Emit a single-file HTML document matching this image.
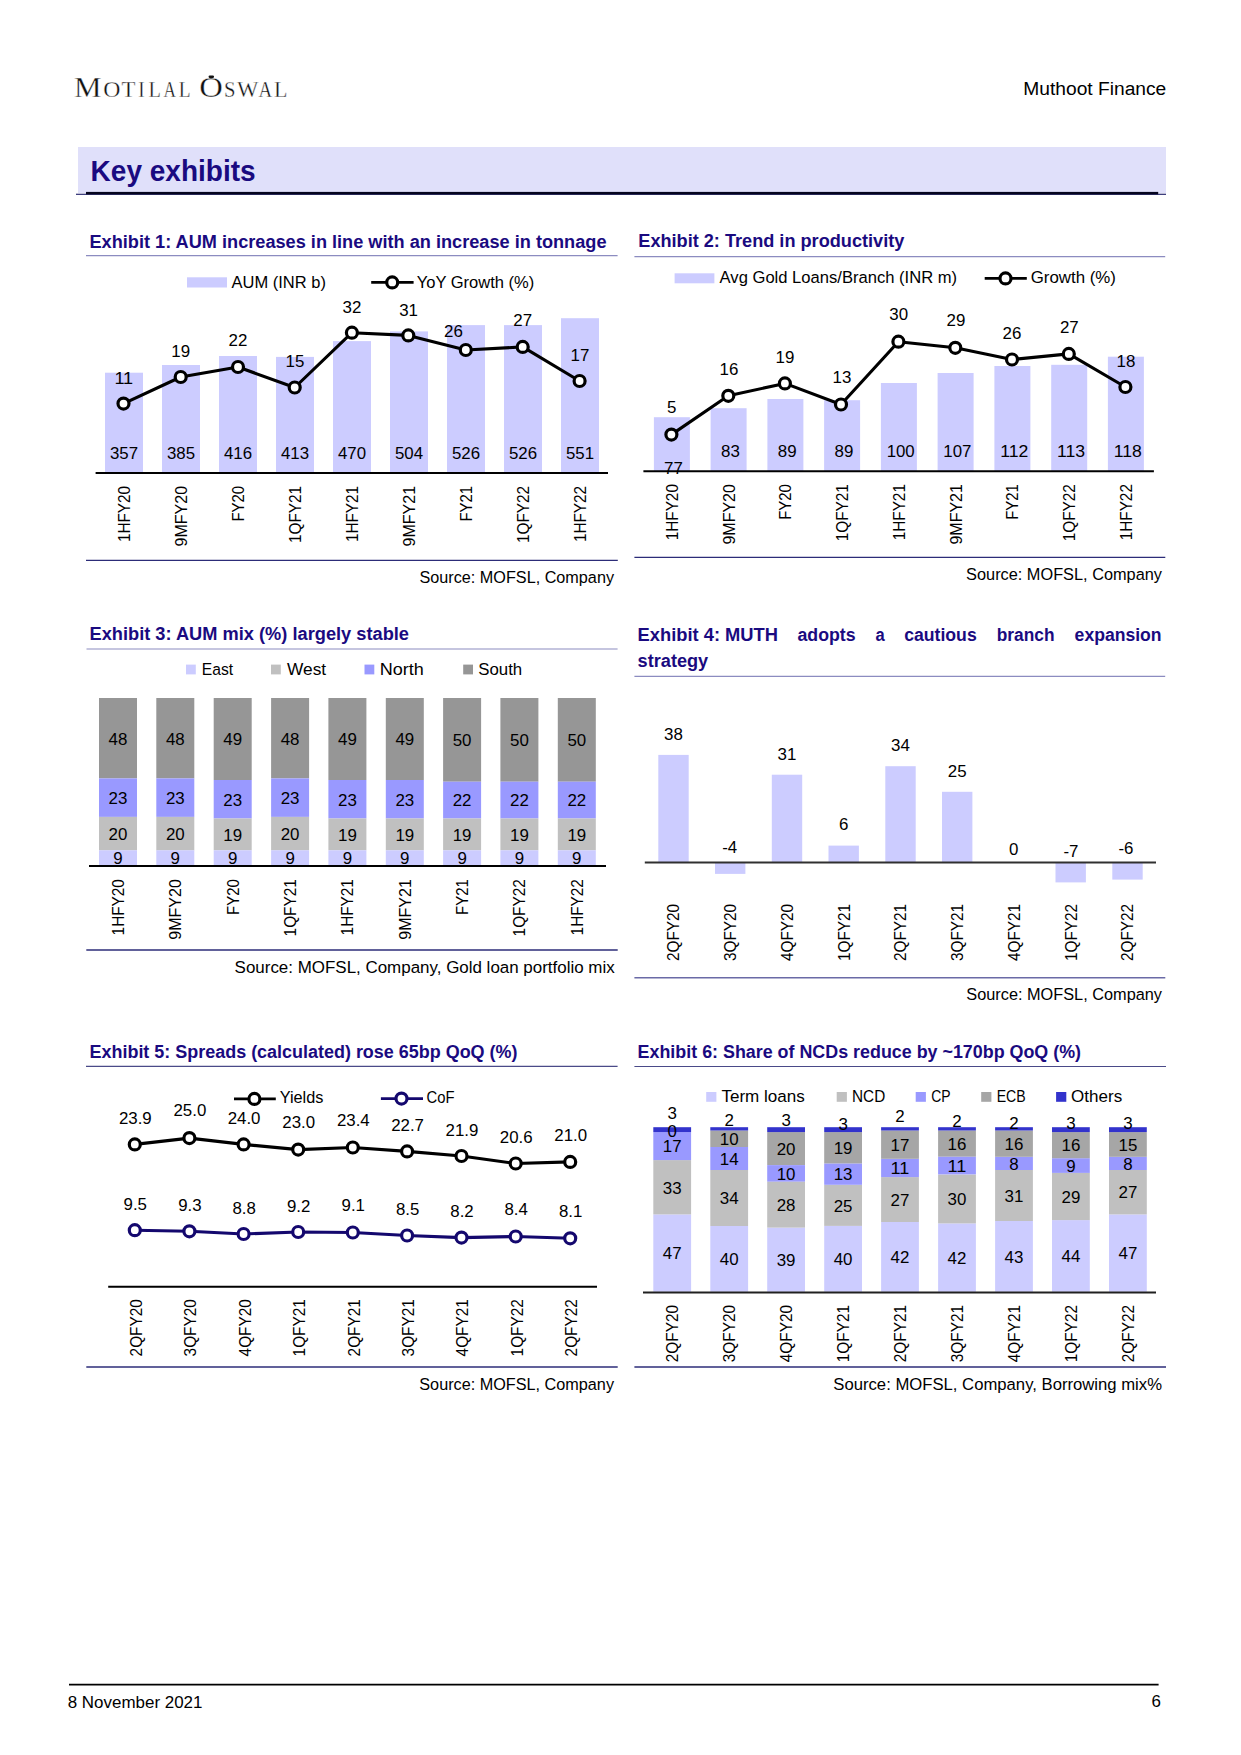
<!DOCTYPE html>
<html><head><meta charset="utf-8"><style>
html,body{margin:0;padding:0;background:#fff;overflow:hidden;width:1241px;height:1755px;}
svg{display:block;font-family:"Liberation Sans",sans-serif;}
</style></head><body>
<svg width="1241" height="1755" viewBox="0 0 1241 1755">
<rect width="1241" height="1755" fill="#fff"/>
<text transform="translate(74.10,96.9) scale(1.039,1)" x="0" y="0" font-family="Liberation Serif" font-size="29.8" fill="#111" stroke="#fff" stroke-width="0.35">M</text>
<text transform="translate(103.22,96.9) scale(1.012,1)" x="0" y="0" font-family="Liberation Serif" font-size="23.5" fill="#111" stroke="#fff" stroke-width="0.35">O</text>
<text transform="translate(121.49,96.9) scale(0.969,1)" x="0" y="0" font-family="Liberation Serif" font-size="23.5" fill="#111" stroke="#fff" stroke-width="0.35">T</text>
<text transform="translate(138.31,96.9) scale(0.815,1)" x="0" y="0" font-family="Liberation Serif" font-size="23.5" fill="#111" stroke="#fff" stroke-width="0.35">I</text>
<text transform="translate(148.41,96.9) scale(0.866,1)" x="0" y="0" font-family="Liberation Serif" font-size="23.5" fill="#111" stroke="#fff" stroke-width="0.35">L</text>
<text transform="translate(163.53,96.9) scale(0.731,1)" x="0" y="0" font-family="Liberation Serif" font-size="23.5" fill="#111" stroke="#fff" stroke-width="0.35">A</text>
<text transform="translate(178.74,96.9) scale(0.825,1)" x="0" y="0" font-family="Liberation Serif" font-size="23.5" fill="#111" stroke="#fff" stroke-width="0.35">L</text>
<text transform="translate(199.26,96.9) scale(1.098,1)" x="0" y="0" font-family="Liberation Serif" font-size="29.8" fill="#111" stroke="#fff" stroke-width="0.35">O</text>
<text transform="translate(224.12,96.9) scale(0.879,1)" x="0" y="0" font-family="Liberation Serif" font-size="23.5" fill="#111" stroke="#fff" stroke-width="0.35">S</text>
<text transform="translate(236.98,96.9) scale(0.964,1)" x="0" y="0" font-family="Liberation Serif" font-size="23.5" fill="#111" stroke="#fff" stroke-width="0.35">W</text>
<text transform="translate(258.51,96.9) scale(0.804,1)" x="0" y="0" font-family="Liberation Serif" font-size="23.5" fill="#111" stroke="#fff" stroke-width="0.35">A</text>
<text transform="translate(274.06,96.9) scale(0.939,1)" x="0" y="0" font-family="Liberation Serif" font-size="23.5" fill="#111" stroke="#fff" stroke-width="0.35">L</text>
<rect x="208.6" y="75.4" width="5.4" height="2.6" rx="1.2" fill="#111"/>
<text x="1166.3" y="95.0" font-size="17.60" font-weight="normal" text-anchor="end" fill="#000" textLength="143.0" lengthAdjust="spacingAndGlyphs">Muthoot Finance</text>
<rect x="78.0" y="147.0" width="1088.0" height="46.0" fill="#e0e0fa"/>
<rect x="76.0" y="193.7" width="1090.0" height="1.2" fill="#2a2a70"/>
<rect x="86.0" y="191.9" width="1072.2" height="2.5" fill="#05051e"/>
<text x="90.6" y="180.6" font-size="28.80" font-weight="bold" text-anchor="start" fill="#1a0a80" textLength="165.0" lengthAdjust="spacingAndGlyphs">Key exhibits</text>
<text x="89.5" y="248.0" font-size="18.30" font-weight="bold" text-anchor="start" fill="#1a0a80" textLength="517.0" lengthAdjust="spacingAndGlyphs">Exhibit 1: AUM increases in line with an increase in tonnage</text>
<text x="638.3" y="247.2" font-size="18.30" font-weight="bold" text-anchor="start" fill="#1a0a80" textLength="266.0" lengthAdjust="spacingAndGlyphs">Exhibit 2: Trend in productivity</text>
<text x="89.5" y="639.8" font-size="18.30" font-weight="bold" text-anchor="start" fill="#1a0a80" textLength="319.5" lengthAdjust="spacingAndGlyphs">Exhibit 3: AUM mix (%) largely stable</text>
<text x="89.5" y="1058.0" font-size="18.30" font-weight="bold" text-anchor="start" fill="#1a0a80" textLength="428.0" lengthAdjust="spacingAndGlyphs">Exhibit 5: Spreads (calculated) rose 65bp QoQ (%)</text>
<text x="637.6" y="1057.8" font-size="18.30" font-weight="bold" text-anchor="start" fill="#1a0a80" textLength="443.4" lengthAdjust="spacingAndGlyphs">Exhibit 6: Share of NCDs reduce by ~170bp QoQ (%)</text>
<text x="637.6" y="640.7" font-size="18.30" font-weight="bold" text-anchor="start" fill="#1a0a80" textLength="140.4" lengthAdjust="spacingAndGlyphs">Exhibit 4: MUTH</text>
<text x="797.5" y="640.7" font-size="18.30" font-weight="bold" text-anchor="start" fill="#1a0a80" textLength="58.1" lengthAdjust="spacingAndGlyphs">adopts</text>
<text x="875.4" y="640.7" font-size="18.30" font-weight="bold" text-anchor="start" fill="#1a0a80" textLength="9.2" lengthAdjust="spacingAndGlyphs">a</text>
<text x="904.2" y="640.7" font-size="18.30" font-weight="bold" text-anchor="start" fill="#1a0a80" textLength="72.5" lengthAdjust="spacingAndGlyphs">cautious</text>
<text x="996.8" y="640.7" font-size="18.30" font-weight="bold" text-anchor="start" fill="#1a0a80" textLength="57.7" lengthAdjust="spacingAndGlyphs">branch</text>
<text x="1074.6" y="640.7" font-size="18.30" font-weight="bold" text-anchor="start" fill="#1a0a80" textLength="87.0" lengthAdjust="spacingAndGlyphs">expansion</text>
<text x="637.6" y="667.2" font-size="18.30" font-weight="bold" text-anchor="start" fill="#1a0a80" textLength="70.6" lengthAdjust="spacingAndGlyphs">strategy</text>
<line x1="86.0" y1="255.6" x2="617.6" y2="255.6" stroke="#8c8cc0" stroke-width="1.2"/>
<line x1="634.4" y1="256.6" x2="1165.2" y2="256.6" stroke="#8c8cc0" stroke-width="1.2"/>
<line x1="86.5" y1="649.0" x2="617.6" y2="649.0" stroke="#8c8cc0" stroke-width="1.2"/>
<line x1="634.4" y1="676.3" x2="1165.2" y2="676.3" stroke="#8c8cc0" stroke-width="1.2"/>
<line x1="86.0" y1="1066.4" x2="617.6" y2="1066.4" stroke="#4a4a88" stroke-width="1.2"/>
<line x1="634.4" y1="1066.5" x2="1166.0" y2="1066.5" stroke="#4a4a88" stroke-width="1.2"/>
<line x1="86.0" y1="560.4" x2="617.8" y2="560.4" stroke="#2c2c78" stroke-width="1.3"/>
<line x1="634.4" y1="557.3" x2="1165.3" y2="557.3" stroke="#2c2c78" stroke-width="1.3"/>
<line x1="86.3" y1="950.0" x2="617.7" y2="950.0" stroke="#2c2c78" stroke-width="1.3"/>
<line x1="634.4" y1="977.8" x2="1165.3" y2="977.8" stroke="#6a6aa6" stroke-width="1.4"/>
<line x1="86.3" y1="1367.0" x2="617.7" y2="1367.0" stroke="#2c2c78" stroke-width="1.3"/>
<line x1="634.4" y1="1367.0" x2="1166.0" y2="1367.0" stroke="#2c2c78" stroke-width="1.3"/>
<text x="614.0" y="582.8" font-size="16.64" font-weight="normal" text-anchor="end" fill="#000" textLength="194.5" lengthAdjust="spacingAndGlyphs">Source: MOFSL, Company</text>
<text x="1162.0" y="579.8" font-size="16.64" font-weight="normal" text-anchor="end" fill="#000" textLength="195.9" lengthAdjust="spacingAndGlyphs">Source: MOFSL, Company</text>
<text x="614.7" y="972.8" font-size="16.64" font-weight="normal" text-anchor="end" fill="#000" textLength="380.1" lengthAdjust="spacingAndGlyphs">Source: MOFSL, Company, Gold loan portfolio mix</text>
<text x="1162.0" y="999.5" font-size="16.64" font-weight="normal" text-anchor="end" fill="#000" textLength="195.7" lengthAdjust="spacingAndGlyphs">Source: MOFSL, Company</text>
<text x="614.0" y="1389.8" font-size="16.64" font-weight="normal" text-anchor="end" fill="#000" textLength="194.7" lengthAdjust="spacingAndGlyphs">Source: MOFSL, Company</text>
<text x="1162.0" y="1390.0" font-size="16.64" font-weight="normal" text-anchor="end" fill="#000" textLength="328.7" lengthAdjust="spacingAndGlyphs">Source: MOFSL, Company, Borrowing mix%</text>
<rect x="105.0" y="372.7" width="38.0" height="100.3" fill="#ccccff"/>
<text x="124.0" y="459.2" font-size="16.64" font-weight="normal" text-anchor="middle" fill="#000" textLength="28.1" lengthAdjust="spacingAndGlyphs">357</text>
<rect x="162.0" y="365.0" width="38.0" height="108.0" fill="#ccccff"/>
<text x="181.0" y="459.2" font-size="16.64" font-weight="normal" text-anchor="middle" fill="#000" textLength="28.1" lengthAdjust="spacingAndGlyphs">385</text>
<rect x="219.0" y="356.0" width="38.0" height="117.0" fill="#ccccff"/>
<text x="238.0" y="459.2" font-size="16.64" font-weight="normal" text-anchor="middle" fill="#000" textLength="28.1" lengthAdjust="spacingAndGlyphs">416</text>
<rect x="276.0" y="356.9" width="38.0" height="116.1" fill="#ccccff"/>
<text x="295.0" y="459.2" font-size="16.64" font-weight="normal" text-anchor="middle" fill="#000" textLength="28.1" lengthAdjust="spacingAndGlyphs">413</text>
<rect x="333.0" y="341.1" width="38.0" height="131.9" fill="#ccccff"/>
<text x="352.0" y="459.2" font-size="16.64" font-weight="normal" text-anchor="middle" fill="#000" textLength="28.1" lengthAdjust="spacingAndGlyphs">470</text>
<rect x="390.0" y="331.4" width="38.0" height="141.6" fill="#ccccff"/>
<text x="409.0" y="459.2" font-size="16.64" font-weight="normal" text-anchor="middle" fill="#000" textLength="28.1" lengthAdjust="spacingAndGlyphs">504</text>
<rect x="447.0" y="325.1" width="38.0" height="147.9" fill="#ccccff"/>
<text x="466.0" y="459.2" font-size="16.64" font-weight="normal" text-anchor="middle" fill="#000" textLength="28.1" lengthAdjust="spacingAndGlyphs">526</text>
<rect x="504.0" y="325.1" width="38.0" height="147.9" fill="#ccccff"/>
<text x="523.0" y="459.2" font-size="16.64" font-weight="normal" text-anchor="middle" fill="#000" textLength="28.1" lengthAdjust="spacingAndGlyphs">526</text>
<rect x="561.0" y="318.2" width="38.0" height="154.8" fill="#ccccff"/>
<text x="580.0" y="459.2" font-size="16.64" font-weight="normal" text-anchor="middle" fill="#000" textLength="28.1" lengthAdjust="spacingAndGlyphs">551</text>
<line x1="95.6" y1="473.0" x2="608.0" y2="473.0" stroke="#000" stroke-width="2"/>
<polyline points="123.5,403.6 180.7,377.0 238.0,367.0 294.7,387.5 351.9,332.7 408.3,335.4 465.8,350.0 522.7,346.9 579.6,381.0" fill="none" stroke="#000" stroke-width="3.1" stroke-linejoin="round"/>
<circle cx="123.5" cy="403.6" r="5.5" fill="#fff" stroke="#000" stroke-width="3.2"/>
<circle cx="180.7" cy="377.0" r="5.5" fill="#fff" stroke="#000" stroke-width="3.2"/>
<circle cx="238.0" cy="367.0" r="5.5" fill="#fff" stroke="#000" stroke-width="3.2"/>
<circle cx="294.7" cy="387.5" r="5.5" fill="#fff" stroke="#000" stroke-width="3.2"/>
<circle cx="351.9" cy="332.7" r="5.5" fill="#fff" stroke="#000" stroke-width="3.2"/>
<circle cx="408.3" cy="335.4" r="5.5" fill="#fff" stroke="#000" stroke-width="3.2"/>
<circle cx="465.8" cy="350.0" r="5.5" fill="#fff" stroke="#000" stroke-width="3.2"/>
<circle cx="522.7" cy="346.9" r="5.5" fill="#fff" stroke="#000" stroke-width="3.2"/>
<circle cx="579.6" cy="381.0" r="5.5" fill="#fff" stroke="#000" stroke-width="3.2"/>
<text x="123.8" y="384.0" font-size="16.64" font-weight="normal" text-anchor="middle" fill="#000" textLength="18.8" lengthAdjust="spacingAndGlyphs">11</text>
<text x="180.7" y="356.9" font-size="16.64" font-weight="normal" text-anchor="middle" fill="#000" textLength="18.8" lengthAdjust="spacingAndGlyphs">19</text>
<text x="238.0" y="346.4" font-size="16.64" font-weight="normal" text-anchor="middle" fill="#000" textLength="18.8" lengthAdjust="spacingAndGlyphs">22</text>
<text x="295.0" y="367.4" font-size="16.64" font-weight="normal" text-anchor="middle" fill="#000" textLength="18.8" lengthAdjust="spacingAndGlyphs">15</text>
<text x="352.0" y="312.6" font-size="16.64" font-weight="normal" text-anchor="middle" fill="#000" textLength="18.8" lengthAdjust="spacingAndGlyphs">32</text>
<text x="408.6" y="315.8" font-size="16.64" font-weight="normal" text-anchor="middle" fill="#000" textLength="18.8" lengthAdjust="spacingAndGlyphs">31</text>
<text x="453.4" y="336.7" font-size="16.64" font-weight="normal" text-anchor="middle" fill="#000" textLength="18.8" lengthAdjust="spacingAndGlyphs">26</text>
<text x="522.7" y="326.3" font-size="16.64" font-weight="normal" text-anchor="middle" fill="#000" textLength="18.8" lengthAdjust="spacingAndGlyphs">27</text>
<text x="580.0" y="360.9" font-size="16.64" font-weight="normal" text-anchor="middle" fill="#000" textLength="18.8" lengthAdjust="spacingAndGlyphs">17</text>
<text transform="translate(129.9,485.9) rotate(-90)" x="0" y="0" font-size="16.37" text-anchor="end" fill="#000" textLength="56.2" lengthAdjust="spacingAndGlyphs">1HFY20</text>
<text transform="translate(186.9,485.9) rotate(-90)" x="0" y="0" font-size="16.37" text-anchor="end" fill="#000" textLength="60.5" lengthAdjust="spacingAndGlyphs">9MFY20</text>
<text transform="translate(243.9,485.9) rotate(-90)" x="0" y="0" font-size="16.37" text-anchor="end" fill="#000" textLength="35.7" lengthAdjust="spacingAndGlyphs">FY20</text>
<text transform="translate(300.9,485.9) rotate(-90)" x="0" y="0" font-size="16.37" text-anchor="end" fill="#000" textLength="57.2" lengthAdjust="spacingAndGlyphs">1QFY21</text>
<text transform="translate(357.9,485.9) rotate(-90)" x="0" y="0" font-size="16.37" text-anchor="end" fill="#000" textLength="56.2" lengthAdjust="spacingAndGlyphs">1HFY21</text>
<text transform="translate(414.9,485.9) rotate(-90)" x="0" y="0" font-size="16.37" text-anchor="end" fill="#000" textLength="60.5" lengthAdjust="spacingAndGlyphs">9MFY21</text>
<text transform="translate(471.9,485.9) rotate(-90)" x="0" y="0" font-size="16.37" text-anchor="end" fill="#000" textLength="35.7" lengthAdjust="spacingAndGlyphs">FY21</text>
<text transform="translate(528.9,485.9) rotate(-90)" x="0" y="0" font-size="16.37" text-anchor="end" fill="#000" textLength="57.2" lengthAdjust="spacingAndGlyphs">1QFY22</text>
<text transform="translate(585.9,485.9) rotate(-90)" x="0" y="0" font-size="16.37" text-anchor="end" fill="#000" textLength="56.2" lengthAdjust="spacingAndGlyphs">1HFY22</text>
<rect x="187.0" y="277.3" width="40.0" height="10.2" fill="#ccccff"/>
<text x="231.6" y="287.6" font-size="16.64" font-weight="normal" text-anchor="start" fill="#000" textLength="94.3" lengthAdjust="spacingAndGlyphs">AUM (INR b)</text>
<line x1="371.2" y1="282.4" x2="413.6" y2="282.4" stroke="#000" stroke-width="2.8"/>
<circle cx="392.2" cy="282.4" r="5.5" fill="#fff" stroke="#000" stroke-width="3.2"/>
<text x="416.7" y="287.6" font-size="16.64" font-weight="normal" text-anchor="start" fill="#000" textLength="117.6" lengthAdjust="spacingAndGlyphs">YoY Growth (%)</text>
<rect x="653.9" y="417.2" width="36.0" height="54.1" fill="#ccccff"/>
<text x="673.4" y="474.0" font-size="16.64" font-weight="normal" text-anchor="middle" fill="#000" textLength="18.8" lengthAdjust="spacingAndGlyphs">77</text>
<rect x="710.6" y="408.2" width="36.0" height="63.1" fill="#ccccff"/>
<text x="730.4" y="456.5" font-size="16.64" font-weight="normal" text-anchor="middle" fill="#000" textLength="18.8" lengthAdjust="spacingAndGlyphs">83</text>
<rect x="767.4" y="399.0" width="36.0" height="72.3" fill="#ccccff"/>
<text x="787.2" y="456.5" font-size="16.64" font-weight="normal" text-anchor="middle" fill="#000" textLength="18.8" lengthAdjust="spacingAndGlyphs">89</text>
<rect x="824.1" y="400.2" width="36.0" height="71.1" fill="#ccccff"/>
<text x="843.9" y="456.5" font-size="16.64" font-weight="normal" text-anchor="middle" fill="#000" textLength="18.8" lengthAdjust="spacingAndGlyphs">89</text>
<rect x="880.9" y="383.0" width="36.0" height="88.3" fill="#ccccff"/>
<text x="900.7" y="456.5" font-size="16.64" font-weight="normal" text-anchor="middle" fill="#000" textLength="28.1" lengthAdjust="spacingAndGlyphs">100</text>
<rect x="937.6" y="373.0" width="36.0" height="98.3" fill="#ccccff"/>
<text x="957.4" y="456.5" font-size="16.64" font-weight="normal" text-anchor="middle" fill="#000" textLength="28.1" lengthAdjust="spacingAndGlyphs">107</text>
<rect x="994.4" y="366.0" width="36.0" height="105.3" fill="#ccccff"/>
<text x="1014.2" y="456.5" font-size="16.64" font-weight="normal" text-anchor="middle" fill="#000" textLength="28.1" lengthAdjust="spacingAndGlyphs">112</text>
<rect x="1051.2" y="364.8" width="36.0" height="106.5" fill="#ccccff"/>
<text x="1071.0" y="456.5" font-size="16.64" font-weight="normal" text-anchor="middle" fill="#000" textLength="28.1" lengthAdjust="spacingAndGlyphs">113</text>
<rect x="1107.9" y="356.7" width="36.0" height="114.6" fill="#ccccff"/>
<text x="1127.7" y="456.5" font-size="16.64" font-weight="normal" text-anchor="middle" fill="#000" textLength="28.1" lengthAdjust="spacingAndGlyphs">118</text>
<line x1="643.4" y1="471.3" x2="1153.9" y2="471.3" stroke="#000" stroke-width="2"/>
<polyline points="671.4,434.6 728.3,395.8 784.9,383.4 841.0,404.5 898.4,341.7 955.3,347.8 1012.0,359.5 1068.8,353.9 1125.4,387.0" fill="none" stroke="#000" stroke-width="3.1" stroke-linejoin="round"/>
<circle cx="671.4" cy="434.6" r="5.5" fill="#fff" stroke="#000" stroke-width="3.2"/>
<circle cx="728.3" cy="395.8" r="5.5" fill="#fff" stroke="#000" stroke-width="3.2"/>
<circle cx="784.9" cy="383.4" r="5.5" fill="#fff" stroke="#000" stroke-width="3.2"/>
<circle cx="841.0" cy="404.5" r="5.5" fill="#fff" stroke="#000" stroke-width="3.2"/>
<circle cx="898.4" cy="341.7" r="5.5" fill="#fff" stroke="#000" stroke-width="3.2"/>
<circle cx="955.3" cy="347.8" r="5.5" fill="#fff" stroke="#000" stroke-width="3.2"/>
<circle cx="1012.0" cy="359.5" r="5.5" fill="#fff" stroke="#000" stroke-width="3.2"/>
<circle cx="1068.8" cy="353.9" r="5.5" fill="#fff" stroke="#000" stroke-width="3.2"/>
<circle cx="1125.4" cy="387.0" r="5.5" fill="#fff" stroke="#000" stroke-width="3.2"/>
<text x="671.6" y="413.4" font-size="16.64" font-weight="normal" text-anchor="middle" fill="#000" textLength="9.4" lengthAdjust="spacingAndGlyphs">5</text>
<text x="729.0" y="374.7" font-size="16.64" font-weight="normal" text-anchor="middle" fill="#000" textLength="18.8" lengthAdjust="spacingAndGlyphs">16</text>
<text x="785.0" y="362.7" font-size="16.64" font-weight="normal" text-anchor="middle" fill="#000" textLength="18.8" lengthAdjust="spacingAndGlyphs">19</text>
<text x="842.0" y="383.4" font-size="16.64" font-weight="normal" text-anchor="middle" fill="#000" textLength="18.8" lengthAdjust="spacingAndGlyphs">13</text>
<text x="898.7" y="320.4" font-size="16.64" font-weight="normal" text-anchor="middle" fill="#000" textLength="18.8" lengthAdjust="spacingAndGlyphs">30</text>
<text x="956.0" y="326.3" font-size="16.64" font-weight="normal" text-anchor="middle" fill="#000" textLength="18.8" lengthAdjust="spacingAndGlyphs">29</text>
<text x="1012.0" y="338.7" font-size="16.64" font-weight="normal" text-anchor="middle" fill="#000" textLength="18.8" lengthAdjust="spacingAndGlyphs">26</text>
<text x="1069.3" y="332.6" font-size="16.64" font-weight="normal" text-anchor="middle" fill="#000" textLength="18.8" lengthAdjust="spacingAndGlyphs">27</text>
<text x="1125.9" y="366.7" font-size="16.64" font-weight="normal" text-anchor="middle" fill="#000" textLength="18.8" lengthAdjust="spacingAndGlyphs">18</text>
<text transform="translate(677.8,484.1) rotate(-90)" x="0" y="0" font-size="16.37" text-anchor="end" fill="#000" textLength="56.2" lengthAdjust="spacingAndGlyphs">1HFY20</text>
<text transform="translate(734.5,484.1) rotate(-90)" x="0" y="0" font-size="16.37" text-anchor="end" fill="#000" textLength="60.5" lengthAdjust="spacingAndGlyphs">9MFY20</text>
<text transform="translate(791.3,484.1) rotate(-90)" x="0" y="0" font-size="16.37" text-anchor="end" fill="#000" textLength="35.7" lengthAdjust="spacingAndGlyphs">FY20</text>
<text transform="translate(848.0,484.1) rotate(-90)" x="0" y="0" font-size="16.37" text-anchor="end" fill="#000" textLength="57.2" lengthAdjust="spacingAndGlyphs">1QFY21</text>
<text transform="translate(904.8,484.1) rotate(-90)" x="0" y="0" font-size="16.37" text-anchor="end" fill="#000" textLength="56.2" lengthAdjust="spacingAndGlyphs">1HFY21</text>
<text transform="translate(961.5,484.1) rotate(-90)" x="0" y="0" font-size="16.37" text-anchor="end" fill="#000" textLength="60.5" lengthAdjust="spacingAndGlyphs">9MFY21</text>
<text transform="translate(1018.3,484.1) rotate(-90)" x="0" y="0" font-size="16.37" text-anchor="end" fill="#000" textLength="35.7" lengthAdjust="spacingAndGlyphs">FY21</text>
<text transform="translate(1075.0,484.1) rotate(-90)" x="0" y="0" font-size="16.37" text-anchor="end" fill="#000" textLength="57.2" lengthAdjust="spacingAndGlyphs">1QFY22</text>
<text transform="translate(1131.8,484.1) rotate(-90)" x="0" y="0" font-size="16.37" text-anchor="end" fill="#000" textLength="56.2" lengthAdjust="spacingAndGlyphs">1HFY22</text>
<rect x="674.6" y="273.3" width="39.8" height="10.0" fill="#ccccff"/>
<text x="719.6" y="283.3" font-size="16.64" font-weight="normal" text-anchor="start" fill="#000" textLength="237.5" lengthAdjust="spacingAndGlyphs">Avg Gold Loans/Branch (INR m)</text>
<line x1="984.7" y1="278.4" x2="1026.8" y2="278.4" stroke="#000" stroke-width="2.8"/>
<circle cx="1005.5" cy="278.4" r="5.5" fill="#fff" stroke="#000" stroke-width="3.2"/>
<text x="1030.7" y="283.3" font-size="16.64" font-weight="normal" text-anchor="start" fill="#000" textLength="85.3" lengthAdjust="spacingAndGlyphs">Growth (%)</text>
<rect x="99.0" y="698.0" width="38.0" height="80.4" fill="#969696"/>
<text x="118.0" y="744.5" font-size="16.64" font-weight="normal" text-anchor="middle" fill="#000" textLength="18.8" lengthAdjust="spacingAndGlyphs">48</text>
<rect x="99.0" y="778.4" width="38.0" height="38.5" fill="#9999ff"/>
<text x="118.0" y="803.9" font-size="16.64" font-weight="normal" text-anchor="middle" fill="#000" textLength="18.8" lengthAdjust="spacingAndGlyphs">23</text>
<rect x="99.0" y="816.9" width="38.0" height="33.5" fill="#c0c0c0"/>
<text x="118.0" y="839.9" font-size="16.64" font-weight="normal" text-anchor="middle" fill="#000" textLength="18.8" lengthAdjust="spacingAndGlyphs">20</text>
<rect x="99.0" y="850.3" width="38.0" height="15.1" fill="#ccccff"/>
<text x="118.0" y="864.2" font-size="16.64" font-weight="normal" text-anchor="middle" fill="#000" textLength="9.4" lengthAdjust="spacingAndGlyphs">9</text>
<rect x="156.3" y="698.0" width="38.0" height="80.4" fill="#969696"/>
<text x="175.3" y="744.5" font-size="16.64" font-weight="normal" text-anchor="middle" fill="#000" textLength="18.8" lengthAdjust="spacingAndGlyphs">48</text>
<rect x="156.3" y="778.4" width="38.0" height="38.5" fill="#9999ff"/>
<text x="175.3" y="803.9" font-size="16.64" font-weight="normal" text-anchor="middle" fill="#000" textLength="18.8" lengthAdjust="spacingAndGlyphs">23</text>
<rect x="156.3" y="816.9" width="38.0" height="33.5" fill="#c0c0c0"/>
<text x="175.3" y="839.9" font-size="16.64" font-weight="normal" text-anchor="middle" fill="#000" textLength="18.8" lengthAdjust="spacingAndGlyphs">20</text>
<rect x="156.3" y="850.3" width="38.0" height="15.1" fill="#ccccff"/>
<text x="175.3" y="864.2" font-size="16.64" font-weight="normal" text-anchor="middle" fill="#000" textLength="9.4" lengthAdjust="spacingAndGlyphs">9</text>
<rect x="213.7" y="698.0" width="38.0" height="82.0" fill="#969696"/>
<text x="232.7" y="745.3" font-size="16.64" font-weight="normal" text-anchor="middle" fill="#000" textLength="18.8" lengthAdjust="spacingAndGlyphs">49</text>
<rect x="213.7" y="780.0" width="38.0" height="38.5" fill="#9999ff"/>
<text x="232.7" y="805.6" font-size="16.64" font-weight="normal" text-anchor="middle" fill="#000" textLength="18.8" lengthAdjust="spacingAndGlyphs">23</text>
<rect x="213.7" y="818.5" width="38.0" height="31.8" fill="#c0c0c0"/>
<text x="232.7" y="840.7" font-size="16.64" font-weight="normal" text-anchor="middle" fill="#000" textLength="18.8" lengthAdjust="spacingAndGlyphs">19</text>
<rect x="213.7" y="850.3" width="38.0" height="15.1" fill="#ccccff"/>
<text x="232.7" y="864.2" font-size="16.64" font-weight="normal" text-anchor="middle" fill="#000" textLength="9.4" lengthAdjust="spacingAndGlyphs">9</text>
<rect x="271.1" y="698.0" width="38.0" height="80.4" fill="#969696"/>
<text x="290.1" y="744.5" font-size="16.64" font-weight="normal" text-anchor="middle" fill="#000" textLength="18.8" lengthAdjust="spacingAndGlyphs">48</text>
<rect x="271.1" y="778.4" width="38.0" height="38.5" fill="#9999ff"/>
<text x="290.1" y="803.9" font-size="16.64" font-weight="normal" text-anchor="middle" fill="#000" textLength="18.8" lengthAdjust="spacingAndGlyphs">23</text>
<rect x="271.1" y="816.9" width="38.0" height="33.5" fill="#c0c0c0"/>
<text x="290.1" y="839.9" font-size="16.64" font-weight="normal" text-anchor="middle" fill="#000" textLength="18.8" lengthAdjust="spacingAndGlyphs">20</text>
<rect x="271.1" y="850.3" width="38.0" height="15.1" fill="#ccccff"/>
<text x="290.1" y="864.2" font-size="16.64" font-weight="normal" text-anchor="middle" fill="#000" textLength="9.4" lengthAdjust="spacingAndGlyphs">9</text>
<rect x="328.4" y="698.0" width="38.0" height="82.0" fill="#969696"/>
<text x="347.4" y="745.3" font-size="16.64" font-weight="normal" text-anchor="middle" fill="#000" textLength="18.8" lengthAdjust="spacingAndGlyphs">49</text>
<rect x="328.4" y="780.0" width="38.0" height="38.5" fill="#9999ff"/>
<text x="347.4" y="805.6" font-size="16.64" font-weight="normal" text-anchor="middle" fill="#000" textLength="18.8" lengthAdjust="spacingAndGlyphs">23</text>
<rect x="328.4" y="818.5" width="38.0" height="31.8" fill="#c0c0c0"/>
<text x="347.4" y="840.7" font-size="16.64" font-weight="normal" text-anchor="middle" fill="#000" textLength="18.8" lengthAdjust="spacingAndGlyphs">19</text>
<rect x="328.4" y="850.3" width="38.0" height="15.1" fill="#ccccff"/>
<text x="347.4" y="864.2" font-size="16.64" font-weight="normal" text-anchor="middle" fill="#000" textLength="9.4" lengthAdjust="spacingAndGlyphs">9</text>
<rect x="385.8" y="698.0" width="38.0" height="82.0" fill="#969696"/>
<text x="404.8" y="745.3" font-size="16.64" font-weight="normal" text-anchor="middle" fill="#000" textLength="18.8" lengthAdjust="spacingAndGlyphs">49</text>
<rect x="385.8" y="780.0" width="38.0" height="38.5" fill="#9999ff"/>
<text x="404.8" y="805.6" font-size="16.64" font-weight="normal" text-anchor="middle" fill="#000" textLength="18.8" lengthAdjust="spacingAndGlyphs">23</text>
<rect x="385.8" y="818.5" width="38.0" height="31.8" fill="#c0c0c0"/>
<text x="404.8" y="840.7" font-size="16.64" font-weight="normal" text-anchor="middle" fill="#000" textLength="18.8" lengthAdjust="spacingAndGlyphs">19</text>
<rect x="385.8" y="850.3" width="38.0" height="15.1" fill="#ccccff"/>
<text x="404.8" y="864.2" font-size="16.64" font-weight="normal" text-anchor="middle" fill="#000" textLength="9.4" lengthAdjust="spacingAndGlyphs">9</text>
<rect x="443.1" y="698.0" width="38.0" height="83.7" fill="#969696"/>
<text x="462.1" y="746.1" font-size="16.64" font-weight="normal" text-anchor="middle" fill="#000" textLength="18.8" lengthAdjust="spacingAndGlyphs">50</text>
<rect x="443.1" y="781.7" width="38.0" height="36.8" fill="#9999ff"/>
<text x="462.1" y="806.4" font-size="16.64" font-weight="normal" text-anchor="middle" fill="#000" textLength="18.8" lengthAdjust="spacingAndGlyphs">22</text>
<rect x="443.1" y="818.5" width="38.0" height="31.8" fill="#c0c0c0"/>
<text x="462.1" y="840.7" font-size="16.64" font-weight="normal" text-anchor="middle" fill="#000" textLength="18.8" lengthAdjust="spacingAndGlyphs">19</text>
<rect x="443.1" y="850.3" width="38.0" height="15.1" fill="#ccccff"/>
<text x="462.1" y="864.2" font-size="16.64" font-weight="normal" text-anchor="middle" fill="#000" textLength="9.4" lengthAdjust="spacingAndGlyphs">9</text>
<rect x="500.4" y="698.0" width="38.0" height="83.7" fill="#969696"/>
<text x="519.5" y="746.1" font-size="16.64" font-weight="normal" text-anchor="middle" fill="#000" textLength="18.8" lengthAdjust="spacingAndGlyphs">50</text>
<rect x="500.4" y="781.7" width="38.0" height="36.8" fill="#9999ff"/>
<text x="519.5" y="806.4" font-size="16.64" font-weight="normal" text-anchor="middle" fill="#000" textLength="18.8" lengthAdjust="spacingAndGlyphs">22</text>
<rect x="500.4" y="818.5" width="38.0" height="31.8" fill="#c0c0c0"/>
<text x="519.5" y="840.7" font-size="16.64" font-weight="normal" text-anchor="middle" fill="#000" textLength="18.8" lengthAdjust="spacingAndGlyphs">19</text>
<rect x="500.4" y="850.3" width="38.0" height="15.1" fill="#ccccff"/>
<text x="519.5" y="864.2" font-size="16.64" font-weight="normal" text-anchor="middle" fill="#000" textLength="9.4" lengthAdjust="spacingAndGlyphs">9</text>
<rect x="557.8" y="698.0" width="38.0" height="83.7" fill="#969696"/>
<text x="576.8" y="746.1" font-size="16.64" font-weight="normal" text-anchor="middle" fill="#000" textLength="18.8" lengthAdjust="spacingAndGlyphs">50</text>
<rect x="557.8" y="781.7" width="38.0" height="36.8" fill="#9999ff"/>
<text x="576.8" y="806.4" font-size="16.64" font-weight="normal" text-anchor="middle" fill="#000" textLength="18.8" lengthAdjust="spacingAndGlyphs">22</text>
<rect x="557.8" y="818.5" width="38.0" height="31.8" fill="#c0c0c0"/>
<text x="576.8" y="840.7" font-size="16.64" font-weight="normal" text-anchor="middle" fill="#000" textLength="18.8" lengthAdjust="spacingAndGlyphs">19</text>
<rect x="557.8" y="850.3" width="38.0" height="15.1" fill="#ccccff"/>
<text x="576.8" y="864.2" font-size="16.64" font-weight="normal" text-anchor="middle" fill="#000" textLength="9.4" lengthAdjust="spacingAndGlyphs">9</text>
<line x1="89.0" y1="866.0" x2="606.0" y2="866.0" stroke="#000" stroke-width="2"/>
<text transform="translate(123.9,879.2) rotate(-90)" x="0" y="0" font-size="16.37" text-anchor="end" fill="#000" textLength="56.2" lengthAdjust="spacingAndGlyphs">1HFY20</text>
<text transform="translate(181.2,879.2) rotate(-90)" x="0" y="0" font-size="16.37" text-anchor="end" fill="#000" textLength="60.5" lengthAdjust="spacingAndGlyphs">9MFY20</text>
<text transform="translate(238.6,879.2) rotate(-90)" x="0" y="0" font-size="16.37" text-anchor="end" fill="#000" textLength="35.7" lengthAdjust="spacingAndGlyphs">FY20</text>
<text transform="translate(295.9,879.2) rotate(-90)" x="0" y="0" font-size="16.37" text-anchor="end" fill="#000" textLength="57.2" lengthAdjust="spacingAndGlyphs">1QFY21</text>
<text transform="translate(353.3,879.2) rotate(-90)" x="0" y="0" font-size="16.37" text-anchor="end" fill="#000" textLength="56.2" lengthAdjust="spacingAndGlyphs">1HFY21</text>
<text transform="translate(410.6,879.2) rotate(-90)" x="0" y="0" font-size="16.37" text-anchor="end" fill="#000" textLength="60.5" lengthAdjust="spacingAndGlyphs">9MFY21</text>
<text transform="translate(468.0,879.2) rotate(-90)" x="0" y="0" font-size="16.37" text-anchor="end" fill="#000" textLength="35.7" lengthAdjust="spacingAndGlyphs">FY21</text>
<text transform="translate(525.3,879.2) rotate(-90)" x="0" y="0" font-size="16.37" text-anchor="end" fill="#000" textLength="57.2" lengthAdjust="spacingAndGlyphs">1QFY22</text>
<text transform="translate(582.7,879.2) rotate(-90)" x="0" y="0" font-size="16.37" text-anchor="end" fill="#000" textLength="56.2" lengthAdjust="spacingAndGlyphs">1HFY22</text>
<rect x="186.0" y="664.6" width="9.8" height="9.8" fill="#ccccff"/>
<text x="201.8" y="674.8" font-size="16.64" font-weight="normal" text-anchor="start" fill="#000" textLength="31.3" lengthAdjust="spacingAndGlyphs">East</text>
<rect x="271.0" y="664.6" width="9.8" height="9.8" fill="#c0c0c0"/>
<text x="287.0" y="674.8" font-size="16.64" font-weight="normal" text-anchor="start" fill="#000" textLength="39.1" lengthAdjust="spacingAndGlyphs">West</text>
<rect x="364.5" y="664.6" width="9.8" height="9.8" fill="#9999ff"/>
<text x="379.7" y="674.8" font-size="16.64" font-weight="normal" text-anchor="start" fill="#000" textLength="44.1" lengthAdjust="spacingAndGlyphs">North</text>
<rect x="463.2" y="664.6" width="9.8" height="9.8" fill="#969696"/>
<text x="478.3" y="674.8" font-size="16.64" font-weight="normal" text-anchor="start" fill="#000" textLength="43.9" lengthAdjust="spacingAndGlyphs">South</text>
<rect x="658.3" y="754.9" width="30.4" height="107.7" fill="#ccccff"/>
<text x="673.5" y="739.7" font-size="16.64" font-weight="normal" text-anchor="middle" fill="#000" textLength="18.8" lengthAdjust="spacingAndGlyphs">38</text>
<rect x="715.0" y="862.6" width="30.4" height="11.3" fill="#ccccff"/>
<rect x="771.8" y="774.7" width="30.4" height="87.9" fill="#ccccff"/>
<text x="787.0" y="759.5" font-size="16.64" font-weight="normal" text-anchor="middle" fill="#000" textLength="18.8" lengthAdjust="spacingAndGlyphs">31</text>
<rect x="828.5" y="845.6" width="30.4" height="17.0" fill="#ccccff"/>
<text x="843.8" y="830.4" font-size="16.64" font-weight="normal" text-anchor="middle" fill="#000" textLength="9.4" lengthAdjust="spacingAndGlyphs">6</text>
<rect x="885.3" y="766.2" width="30.4" height="96.4" fill="#ccccff"/>
<text x="900.5" y="751.0" font-size="16.64" font-weight="normal" text-anchor="middle" fill="#000" textLength="18.8" lengthAdjust="spacingAndGlyphs">34</text>
<rect x="942.0" y="791.8" width="30.4" height="70.9" fill="#ccccff"/>
<text x="957.2" y="776.5" font-size="16.64" font-weight="normal" text-anchor="middle" fill="#000" textLength="18.8" lengthAdjust="spacingAndGlyphs">25</text>
<rect x="1055.5" y="862.6" width="30.4" height="19.8" fill="#ccccff"/>
<rect x="1112.3" y="862.6" width="30.4" height="17.0" fill="#ccccff"/>
<text x="729.7" y="853.2" font-size="16.64" font-weight="normal" text-anchor="middle" fill="#000" textLength="15.0" lengthAdjust="spacingAndGlyphs">-4</text>
<text x="1013.7" y="854.8" font-size="16.64" font-weight="normal" text-anchor="middle" fill="#000" textLength="9.4" lengthAdjust="spacingAndGlyphs">0</text>
<text x="1071.0" y="856.7" font-size="16.64" font-weight="normal" text-anchor="middle" fill="#000" textLength="15.0" lengthAdjust="spacingAndGlyphs">-7</text>
<text x="1126.0" y="854.3" font-size="16.64" font-weight="normal" text-anchor="middle" fill="#000" textLength="15.0" lengthAdjust="spacingAndGlyphs">-6</text>
<line x1="644.8" y1="862.6" x2="1156.0" y2="862.6" stroke="#303030" stroke-width="2"/>
<text transform="translate(679.4,903.9) rotate(-90)" x="0" y="0" font-size="16.37" text-anchor="end" fill="#000" textLength="57.2" lengthAdjust="spacingAndGlyphs">2QFY20</text>
<text transform="translate(736.1,903.9) rotate(-90)" x="0" y="0" font-size="16.37" text-anchor="end" fill="#000" textLength="57.2" lengthAdjust="spacingAndGlyphs">3QFY20</text>
<text transform="translate(792.9,903.9) rotate(-90)" x="0" y="0" font-size="16.37" text-anchor="end" fill="#000" textLength="57.2" lengthAdjust="spacingAndGlyphs">4QFY20</text>
<text transform="translate(849.6,903.9) rotate(-90)" x="0" y="0" font-size="16.37" text-anchor="end" fill="#000" textLength="57.2" lengthAdjust="spacingAndGlyphs">1QFY21</text>
<text transform="translate(906.4,903.9) rotate(-90)" x="0" y="0" font-size="16.37" text-anchor="end" fill="#000" textLength="57.2" lengthAdjust="spacingAndGlyphs">2QFY21</text>
<text transform="translate(963.1,903.9) rotate(-90)" x="0" y="0" font-size="16.37" text-anchor="end" fill="#000" textLength="57.2" lengthAdjust="spacingAndGlyphs">3QFY21</text>
<text transform="translate(1019.9,903.9) rotate(-90)" x="0" y="0" font-size="16.37" text-anchor="end" fill="#000" textLength="57.2" lengthAdjust="spacingAndGlyphs">4QFY21</text>
<text transform="translate(1076.6,903.9) rotate(-90)" x="0" y="0" font-size="16.37" text-anchor="end" fill="#000" textLength="57.2" lengthAdjust="spacingAndGlyphs">1QFY22</text>
<text transform="translate(1133.4,903.9) rotate(-90)" x="0" y="0" font-size="16.37" text-anchor="end" fill="#000" textLength="57.2" lengthAdjust="spacingAndGlyphs">2QFY22</text>
<polyline points="134.8,1144.4 189.4,1138.1 243.6,1144.4 298.2,1149.6 352.8,1147.5 407.1,1151.4 461.5,1156.0 515.7,1163.5 570.2,1161.9" fill="none" stroke="#000" stroke-width="3.1" stroke-linejoin="round"/>
<circle cx="134.8" cy="1144.4" r="5.5" fill="#fff" stroke="#000" stroke-width="3.2"/>
<circle cx="189.4" cy="1138.1" r="5.5" fill="#fff" stroke="#000" stroke-width="3.2"/>
<circle cx="243.6" cy="1144.4" r="5.5" fill="#fff" stroke="#000" stroke-width="3.2"/>
<circle cx="298.2" cy="1149.6" r="5.5" fill="#fff" stroke="#000" stroke-width="3.2"/>
<circle cx="352.8" cy="1147.5" r="5.5" fill="#fff" stroke="#000" stroke-width="3.2"/>
<circle cx="407.1" cy="1151.4" r="5.5" fill="#fff" stroke="#000" stroke-width="3.2"/>
<circle cx="461.5" cy="1156.0" r="5.5" fill="#fff" stroke="#000" stroke-width="3.2"/>
<circle cx="515.7" cy="1163.5" r="5.5" fill="#fff" stroke="#000" stroke-width="3.2"/>
<circle cx="570.2" cy="1161.9" r="5.5" fill="#fff" stroke="#000" stroke-width="3.2"/>
<polyline points="134.8,1230.2 189.4,1231.3 243.6,1234.0 298.2,1232.0 352.8,1232.5 407.1,1235.5 461.5,1237.6 515.7,1236.5 570.2,1238.3" fill="none" stroke="#14086e" stroke-width="3.1" stroke-linejoin="round"/>
<circle cx="134.8" cy="1230.2" r="5.5" fill="#fff" stroke="#14086e" stroke-width="3.2"/>
<circle cx="189.4" cy="1231.3" r="5.5" fill="#fff" stroke="#14086e" stroke-width="3.2"/>
<circle cx="243.6" cy="1234.0" r="5.5" fill="#fff" stroke="#14086e" stroke-width="3.2"/>
<circle cx="298.2" cy="1232.0" r="5.5" fill="#fff" stroke="#14086e" stroke-width="3.2"/>
<circle cx="352.8" cy="1232.5" r="5.5" fill="#fff" stroke="#14086e" stroke-width="3.2"/>
<circle cx="407.1" cy="1235.5" r="5.5" fill="#fff" stroke="#14086e" stroke-width="3.2"/>
<circle cx="461.5" cy="1237.6" r="5.5" fill="#fff" stroke="#14086e" stroke-width="3.2"/>
<circle cx="515.7" cy="1236.5" r="5.5" fill="#fff" stroke="#14086e" stroke-width="3.2"/>
<circle cx="570.2" cy="1238.3" r="5.5" fill="#fff" stroke="#14086e" stroke-width="3.2"/>
<text x="135.3" y="1123.7" font-size="16.64" font-weight="normal" text-anchor="middle" fill="#000" textLength="32.8" lengthAdjust="spacingAndGlyphs">23.9</text>
<text x="135.3" y="1210.3" font-size="16.64" font-weight="normal" text-anchor="middle" fill="#000" textLength="23.4" lengthAdjust="spacingAndGlyphs">9.5</text>
<text x="189.9" y="1116.2" font-size="16.64" font-weight="normal" text-anchor="middle" fill="#000" textLength="32.8" lengthAdjust="spacingAndGlyphs">25.0</text>
<text x="189.9" y="1211.0" font-size="16.64" font-weight="normal" text-anchor="middle" fill="#000" textLength="23.4" lengthAdjust="spacingAndGlyphs">9.3</text>
<text x="244.1" y="1123.7" font-size="16.64" font-weight="normal" text-anchor="middle" fill="#000" textLength="32.8" lengthAdjust="spacingAndGlyphs">24.0</text>
<text x="244.1" y="1213.9" font-size="16.64" font-weight="normal" text-anchor="middle" fill="#000" textLength="23.4" lengthAdjust="spacingAndGlyphs">8.8</text>
<text x="298.7" y="1128.2" font-size="16.64" font-weight="normal" text-anchor="middle" fill="#000" textLength="32.8" lengthAdjust="spacingAndGlyphs">23.0</text>
<text x="298.7" y="1211.7" font-size="16.64" font-weight="normal" text-anchor="middle" fill="#000" textLength="23.4" lengthAdjust="spacingAndGlyphs">9.2</text>
<text x="353.3" y="1126.1" font-size="16.64" font-weight="normal" text-anchor="middle" fill="#000" textLength="32.8" lengthAdjust="spacingAndGlyphs">23.4</text>
<text x="353.3" y="1211.4" font-size="16.64" font-weight="normal" text-anchor="middle" fill="#000" textLength="23.4" lengthAdjust="spacingAndGlyphs">9.1</text>
<text x="407.6" y="1130.8" font-size="16.64" font-weight="normal" text-anchor="middle" fill="#000" textLength="32.8" lengthAdjust="spacingAndGlyphs">22.7</text>
<text x="407.6" y="1214.5" font-size="16.64" font-weight="normal" text-anchor="middle" fill="#000" textLength="23.4" lengthAdjust="spacingAndGlyphs">8.5</text>
<text x="462.0" y="1135.5" font-size="16.64" font-weight="normal" text-anchor="middle" fill="#000" textLength="32.8" lengthAdjust="spacingAndGlyphs">21.9</text>
<text x="462.0" y="1216.6" font-size="16.64" font-weight="normal" text-anchor="middle" fill="#000" textLength="23.4" lengthAdjust="spacingAndGlyphs">8.2</text>
<text x="516.2" y="1142.5" font-size="16.64" font-weight="normal" text-anchor="middle" fill="#000" textLength="32.8" lengthAdjust="spacingAndGlyphs">20.6</text>
<text x="516.2" y="1215.4" font-size="16.64" font-weight="normal" text-anchor="middle" fill="#000" textLength="23.4" lengthAdjust="spacingAndGlyphs">8.4</text>
<text x="570.7" y="1140.6" font-size="16.64" font-weight="normal" text-anchor="middle" fill="#000" textLength="32.8" lengthAdjust="spacingAndGlyphs">21.0</text>
<text x="570.7" y="1217.3" font-size="16.64" font-weight="normal" text-anchor="middle" fill="#000" textLength="23.4" lengthAdjust="spacingAndGlyphs">8.1</text>
<line x1="108.2" y1="1286.8" x2="597.0" y2="1286.8" stroke="#000" stroke-width="2"/>
<text transform="translate(141.9,1299.2) rotate(-90)" x="0" y="0" font-size="16.37" text-anchor="end" fill="#000" textLength="57.2" lengthAdjust="spacingAndGlyphs">2QFY20</text>
<text transform="translate(196.3,1299.2) rotate(-90)" x="0" y="0" font-size="16.37" text-anchor="end" fill="#000" textLength="57.2" lengthAdjust="spacingAndGlyphs">3QFY20</text>
<text transform="translate(250.7,1299.2) rotate(-90)" x="0" y="0" font-size="16.37" text-anchor="end" fill="#000" textLength="57.2" lengthAdjust="spacingAndGlyphs">4QFY20</text>
<text transform="translate(305.1,1299.2) rotate(-90)" x="0" y="0" font-size="16.37" text-anchor="end" fill="#000" textLength="57.2" lengthAdjust="spacingAndGlyphs">1QFY21</text>
<text transform="translate(359.5,1299.2) rotate(-90)" x="0" y="0" font-size="16.37" text-anchor="end" fill="#000" textLength="57.2" lengthAdjust="spacingAndGlyphs">2QFY21</text>
<text transform="translate(414.0,1299.2) rotate(-90)" x="0" y="0" font-size="16.37" text-anchor="end" fill="#000" textLength="57.2" lengthAdjust="spacingAndGlyphs">3QFY21</text>
<text transform="translate(468.4,1299.2) rotate(-90)" x="0" y="0" font-size="16.37" text-anchor="end" fill="#000" textLength="57.2" lengthAdjust="spacingAndGlyphs">4QFY21</text>
<text transform="translate(522.8,1299.2) rotate(-90)" x="0" y="0" font-size="16.37" text-anchor="end" fill="#000" textLength="57.2" lengthAdjust="spacingAndGlyphs">1QFY22</text>
<text transform="translate(577.2,1299.2) rotate(-90)" x="0" y="0" font-size="16.37" text-anchor="end" fill="#000" textLength="57.2" lengthAdjust="spacingAndGlyphs">2QFY22</text>
<line x1="234.0" y1="1098.9" x2="275.8" y2="1098.9" stroke="#000" stroke-width="2.8"/>
<circle cx="254.4" cy="1098.9" r="5.5" fill="#fff" stroke="#000" stroke-width="3.2"/>
<text x="279.7" y="1103.3" font-size="16.64" font-weight="normal" text-anchor="start" fill="#000" textLength="43.7" lengthAdjust="spacingAndGlyphs">Yields</text>
<line x1="380.9" y1="1098.6" x2="423.0" y2="1098.6" stroke="#14086e" stroke-width="2.8"/>
<circle cx="401.5" cy="1098.6" r="5.5" fill="#fff" stroke="#14086e" stroke-width="3.2"/>
<text x="426.5" y="1103.3" font-size="16.64" font-weight="normal" text-anchor="start" fill="#000" textLength="28.0" lengthAdjust="spacingAndGlyphs">CoF</text>
<rect x="653.3" y="1214.4" width="37.8" height="77.4" fill="#ccccff"/>
<rect x="653.3" y="1160.1" width="37.8" height="54.3" fill="#c0c0c0"/>
<rect x="653.3" y="1132.1" width="37.8" height="28.0" fill="#9999ff"/>
<rect x="653.3" y="1132.1" width="37.8" height="0.0" fill="#a6a6a6"/>
<rect x="653.3" y="1127.2" width="37.8" height="4.9" fill="#3333cc"/>
<text x="672.2" y="1259.3" font-size="16.64" font-weight="normal" text-anchor="middle" fill="#000" textLength="18.8" lengthAdjust="spacingAndGlyphs">47</text>
<text x="672.2" y="1193.5" font-size="16.64" font-weight="normal" text-anchor="middle" fill="#000" textLength="18.8" lengthAdjust="spacingAndGlyphs">33</text>
<text x="672.2" y="1152.3" font-size="16.64" font-weight="normal" text-anchor="middle" fill="#000" textLength="18.8" lengthAdjust="spacingAndGlyphs">17</text>
<text x="672.2" y="1137.3" font-size="16.64" font-weight="normal" text-anchor="middle" fill="#000" textLength="9.4" lengthAdjust="spacingAndGlyphs">0</text>
<rect x="710.3" y="1226.0" width="37.8" height="65.8" fill="#ccccff"/>
<rect x="710.3" y="1170.0" width="37.8" height="56.0" fill="#c0c0c0"/>
<rect x="710.3" y="1147.0" width="37.8" height="23.0" fill="#9999ff"/>
<rect x="710.3" y="1130.5" width="37.8" height="16.5" fill="#a6a6a6"/>
<rect x="710.3" y="1127.2" width="37.8" height="3.3" fill="#3333cc"/>
<text x="729.2" y="1265.1" font-size="16.64" font-weight="normal" text-anchor="middle" fill="#000" textLength="18.8" lengthAdjust="spacingAndGlyphs">40</text>
<text x="729.2" y="1204.2" font-size="16.64" font-weight="normal" text-anchor="middle" fill="#000" textLength="18.8" lengthAdjust="spacingAndGlyphs">34</text>
<text x="729.2" y="1164.7" font-size="16.64" font-weight="normal" text-anchor="middle" fill="#000" textLength="18.8" lengthAdjust="spacingAndGlyphs">14</text>
<text x="729.2" y="1144.9" font-size="16.64" font-weight="normal" text-anchor="middle" fill="#000" textLength="18.8" lengthAdjust="spacingAndGlyphs">10</text>
<rect x="767.2" y="1227.6" width="37.8" height="64.2" fill="#ccccff"/>
<rect x="767.2" y="1181.5" width="37.8" height="46.1" fill="#c0c0c0"/>
<rect x="767.2" y="1165.1" width="37.8" height="16.5" fill="#9999ff"/>
<rect x="767.2" y="1132.1" width="37.8" height="32.9" fill="#a6a6a6"/>
<rect x="767.2" y="1127.2" width="37.8" height="4.9" fill="#3333cc"/>
<text x="786.1" y="1265.9" font-size="16.64" font-weight="normal" text-anchor="middle" fill="#000" textLength="18.8" lengthAdjust="spacingAndGlyphs">39</text>
<text x="786.1" y="1210.8" font-size="16.64" font-weight="normal" text-anchor="middle" fill="#000" textLength="18.8" lengthAdjust="spacingAndGlyphs">28</text>
<text x="786.1" y="1179.5" font-size="16.64" font-weight="normal" text-anchor="middle" fill="#000" textLength="18.8" lengthAdjust="spacingAndGlyphs">10</text>
<text x="786.1" y="1154.8" font-size="16.64" font-weight="normal" text-anchor="middle" fill="#000" textLength="18.8" lengthAdjust="spacingAndGlyphs">20</text>
<rect x="824.2" y="1226.0" width="37.8" height="65.8" fill="#ccccff"/>
<rect x="824.2" y="1184.8" width="37.8" height="41.1" fill="#c0c0c0"/>
<rect x="824.2" y="1163.4" width="37.8" height="21.4" fill="#9999ff"/>
<rect x="824.2" y="1132.1" width="37.8" height="31.3" fill="#a6a6a6"/>
<rect x="824.2" y="1127.2" width="37.8" height="4.9" fill="#3333cc"/>
<text x="843.1" y="1265.1" font-size="16.64" font-weight="normal" text-anchor="middle" fill="#000" textLength="18.8" lengthAdjust="spacingAndGlyphs">40</text>
<text x="843.1" y="1211.6" font-size="16.64" font-weight="normal" text-anchor="middle" fill="#000" textLength="18.8" lengthAdjust="spacingAndGlyphs">25</text>
<text x="843.1" y="1180.3" font-size="16.64" font-weight="normal" text-anchor="middle" fill="#000" textLength="18.8" lengthAdjust="spacingAndGlyphs">13</text>
<text x="843.1" y="1154.0" font-size="16.64" font-weight="normal" text-anchor="middle" fill="#000" textLength="18.8" lengthAdjust="spacingAndGlyphs">19</text>
<rect x="881.1" y="1222.0" width="37.8" height="69.8" fill="#ccccff"/>
<rect x="881.1" y="1177.1" width="37.8" height="44.9" fill="#c0c0c0"/>
<rect x="881.1" y="1158.8" width="37.8" height="18.3" fill="#9999ff"/>
<rect x="881.1" y="1130.5" width="37.8" height="28.3" fill="#a6a6a6"/>
<rect x="881.1" y="1127.2" width="37.8" height="3.3" fill="#3333cc"/>
<text x="900.0" y="1263.1" font-size="16.64" font-weight="normal" text-anchor="middle" fill="#000" textLength="18.8" lengthAdjust="spacingAndGlyphs">42</text>
<text x="900.0" y="1205.7" font-size="16.64" font-weight="normal" text-anchor="middle" fill="#000" textLength="18.8" lengthAdjust="spacingAndGlyphs">27</text>
<text x="900.0" y="1174.1" font-size="16.64" font-weight="normal" text-anchor="middle" fill="#000" textLength="18.8" lengthAdjust="spacingAndGlyphs">11</text>
<text x="900.0" y="1150.9" font-size="16.64" font-weight="normal" text-anchor="middle" fill="#000" textLength="18.8" lengthAdjust="spacingAndGlyphs">17</text>
<rect x="938.1" y="1223.4" width="37.8" height="68.4" fill="#ccccff"/>
<rect x="938.1" y="1174.5" width="37.8" height="48.9" fill="#c0c0c0"/>
<rect x="938.1" y="1156.5" width="37.8" height="17.9" fill="#9999ff"/>
<rect x="938.1" y="1130.5" width="37.8" height="26.1" fill="#a6a6a6"/>
<rect x="938.1" y="1127.2" width="37.8" height="3.3" fill="#3333cc"/>
<text x="957.0" y="1263.8" font-size="16.64" font-weight="normal" text-anchor="middle" fill="#000" textLength="18.8" lengthAdjust="spacingAndGlyphs">42</text>
<text x="957.0" y="1205.1" font-size="16.64" font-weight="normal" text-anchor="middle" fill="#000" textLength="18.8" lengthAdjust="spacingAndGlyphs">30</text>
<text x="957.0" y="1171.7" font-size="16.64" font-weight="normal" text-anchor="middle" fill="#000" textLength="18.8" lengthAdjust="spacingAndGlyphs">11</text>
<text x="957.0" y="1149.7" font-size="16.64" font-weight="normal" text-anchor="middle" fill="#000" textLength="18.8" lengthAdjust="spacingAndGlyphs">16</text>
<rect x="995.1" y="1221.0" width="37.8" height="70.8" fill="#ccccff"/>
<rect x="995.1" y="1170.0" width="37.8" height="51.0" fill="#c0c0c0"/>
<rect x="995.1" y="1156.8" width="37.8" height="13.2" fill="#9999ff"/>
<rect x="995.1" y="1130.5" width="37.8" height="26.3" fill="#a6a6a6"/>
<rect x="995.1" y="1127.2" width="37.8" height="3.3" fill="#3333cc"/>
<text x="1014.0" y="1262.6" font-size="16.64" font-weight="normal" text-anchor="middle" fill="#000" textLength="18.8" lengthAdjust="spacingAndGlyphs">43</text>
<text x="1014.0" y="1201.7" font-size="16.64" font-weight="normal" text-anchor="middle" fill="#000" textLength="18.8" lengthAdjust="spacingAndGlyphs">31</text>
<text x="1014.0" y="1169.6" font-size="16.64" font-weight="normal" text-anchor="middle" fill="#000" textLength="9.4" lengthAdjust="spacingAndGlyphs">8</text>
<text x="1014.0" y="1149.9" font-size="16.64" font-weight="normal" text-anchor="middle" fill="#000" textLength="18.8" lengthAdjust="spacingAndGlyphs">16</text>
<rect x="1052.0" y="1220.1" width="37.8" height="71.7" fill="#ccccff"/>
<rect x="1052.0" y="1172.8" width="37.8" height="47.3" fill="#c0c0c0"/>
<rect x="1052.0" y="1158.2" width="37.8" height="14.7" fill="#9999ff"/>
<rect x="1052.0" y="1132.1" width="37.8" height="26.1" fill="#a6a6a6"/>
<rect x="1052.0" y="1127.2" width="37.8" height="4.9" fill="#3333cc"/>
<text x="1070.9" y="1262.1" font-size="16.64" font-weight="normal" text-anchor="middle" fill="#000" textLength="18.8" lengthAdjust="spacingAndGlyphs">44</text>
<text x="1070.9" y="1202.7" font-size="16.64" font-weight="normal" text-anchor="middle" fill="#000" textLength="18.8" lengthAdjust="spacingAndGlyphs">29</text>
<text x="1070.9" y="1171.7" font-size="16.64" font-weight="normal" text-anchor="middle" fill="#000" textLength="9.4" lengthAdjust="spacingAndGlyphs">9</text>
<text x="1070.9" y="1151.3" font-size="16.64" font-weight="normal" text-anchor="middle" fill="#000" textLength="18.8" lengthAdjust="spacingAndGlyphs">16</text>
<rect x="1109.0" y="1214.4" width="37.8" height="77.4" fill="#ccccff"/>
<rect x="1109.0" y="1170.0" width="37.8" height="44.4" fill="#c0c0c0"/>
<rect x="1109.0" y="1156.8" width="37.8" height="13.2" fill="#9999ff"/>
<rect x="1109.0" y="1132.1" width="37.8" height="24.7" fill="#a6a6a6"/>
<rect x="1109.0" y="1127.2" width="37.8" height="4.9" fill="#3333cc"/>
<text x="1127.9" y="1259.3" font-size="16.64" font-weight="normal" text-anchor="middle" fill="#000" textLength="18.8" lengthAdjust="spacingAndGlyphs">47</text>
<text x="1127.9" y="1198.4" font-size="16.64" font-weight="normal" text-anchor="middle" fill="#000" textLength="18.8" lengthAdjust="spacingAndGlyphs">27</text>
<text x="1127.9" y="1169.6" font-size="16.64" font-weight="normal" text-anchor="middle" fill="#000" textLength="9.4" lengthAdjust="spacingAndGlyphs">8</text>
<text x="1127.9" y="1150.7" font-size="16.64" font-weight="normal" text-anchor="middle" fill="#000" textLength="18.8" lengthAdjust="spacingAndGlyphs">15</text>
<text x="672.2" y="1118.8" font-size="16.64" font-weight="normal" text-anchor="middle" fill="#000" textLength="9.4" lengthAdjust="spacingAndGlyphs">3</text>
<text x="729.2" y="1126.4" font-size="16.64" font-weight="normal" text-anchor="middle" fill="#000" textLength="9.4" lengthAdjust="spacingAndGlyphs">2</text>
<text x="786.1" y="1126.0" font-size="16.64" font-weight="normal" text-anchor="middle" fill="#000" textLength="9.4" lengthAdjust="spacingAndGlyphs">3</text>
<text x="843.1" y="1129.6" font-size="16.64" font-weight="normal" text-anchor="middle" fill="#000" textLength="9.4" lengthAdjust="spacingAndGlyphs">3</text>
<text x="900.0" y="1122.4" font-size="16.64" font-weight="normal" text-anchor="middle" fill="#000" textLength="9.4" lengthAdjust="spacingAndGlyphs">2</text>
<text x="957.0" y="1126.9" font-size="16.64" font-weight="normal" text-anchor="middle" fill="#000" textLength="9.4" lengthAdjust="spacingAndGlyphs">2</text>
<text x="1014.0" y="1128.7" font-size="16.64" font-weight="normal" text-anchor="middle" fill="#000" textLength="9.4" lengthAdjust="spacingAndGlyphs">2</text>
<text x="1070.9" y="1129.4" font-size="16.64" font-weight="normal" text-anchor="middle" fill="#000" textLength="9.4" lengthAdjust="spacingAndGlyphs">3</text>
<text x="1127.9" y="1129.4" font-size="16.64" font-weight="normal" text-anchor="middle" fill="#000" textLength="9.4" lengthAdjust="spacingAndGlyphs">3</text>
<line x1="643.0" y1="1292.5" x2="1156.0" y2="1292.5" stroke="#202020" stroke-width="2"/>
<text transform="translate(678.1,1305.0) rotate(-90)" x="0" y="0" font-size="16.37" text-anchor="end" fill="#000" textLength="57.2" lengthAdjust="spacingAndGlyphs">2QFY20</text>
<text transform="translate(735.0,1305.0) rotate(-90)" x="0" y="0" font-size="16.37" text-anchor="end" fill="#000" textLength="57.2" lengthAdjust="spacingAndGlyphs">3QFY20</text>
<text transform="translate(792.0,1305.0) rotate(-90)" x="0" y="0" font-size="16.37" text-anchor="end" fill="#000" textLength="57.2" lengthAdjust="spacingAndGlyphs">4QFY20</text>
<text transform="translate(848.9,1305.0) rotate(-90)" x="0" y="0" font-size="16.37" text-anchor="end" fill="#000" textLength="57.2" lengthAdjust="spacingAndGlyphs">1QFY21</text>
<text transform="translate(905.9,1305.0) rotate(-90)" x="0" y="0" font-size="16.37" text-anchor="end" fill="#000" textLength="57.2" lengthAdjust="spacingAndGlyphs">2QFY21</text>
<text transform="translate(962.9,1305.0) rotate(-90)" x="0" y="0" font-size="16.37" text-anchor="end" fill="#000" textLength="57.2" lengthAdjust="spacingAndGlyphs">3QFY21</text>
<text transform="translate(1019.8,1305.0) rotate(-90)" x="0" y="0" font-size="16.37" text-anchor="end" fill="#000" textLength="57.2" lengthAdjust="spacingAndGlyphs">4QFY21</text>
<text transform="translate(1076.8,1305.0) rotate(-90)" x="0" y="0" font-size="16.37" text-anchor="end" fill="#000" textLength="57.2" lengthAdjust="spacingAndGlyphs">1QFY22</text>
<text transform="translate(1133.7,1305.0) rotate(-90)" x="0" y="0" font-size="16.37" text-anchor="end" fill="#000" textLength="57.2" lengthAdjust="spacingAndGlyphs">2QFY22</text>
<rect x="706.2" y="1092.0" width="10.2" height="9.8" fill="#ccccff"/>
<text x="721.4" y="1101.7" font-size="16.64" font-weight="normal" text-anchor="start" fill="#000" textLength="83.4" lengthAdjust="spacingAndGlyphs">Term loans</text>
<rect x="836.7" y="1092.0" width="10.2" height="9.8" fill="#c0c0c0"/>
<text x="852.0" y="1101.7" font-size="16.64" font-weight="normal" text-anchor="start" fill="#000" textLength="33.2" lengthAdjust="spacingAndGlyphs">NCD</text>
<rect x="915.7" y="1092.0" width="10.2" height="9.8" fill="#9999ff"/>
<text x="931.2" y="1101.7" font-size="16.64" font-weight="normal" text-anchor="start" fill="#000" textLength="19.4" lengthAdjust="spacingAndGlyphs">CP</text>
<rect x="981.2" y="1092.0" width="10.2" height="9.8" fill="#a6a6a6"/>
<text x="996.7" y="1101.7" font-size="16.64" font-weight="normal" text-anchor="start" fill="#000" textLength="29.0" lengthAdjust="spacingAndGlyphs">ECB</text>
<rect x="1056.1" y="1092.0" width="10.2" height="9.8" fill="#3333cc"/>
<text x="1071.1" y="1101.7" font-size="16.64" font-weight="normal" text-anchor="start" fill="#000" textLength="51.1" lengthAdjust="spacingAndGlyphs">Others</text>
<line x1="69.0" y1="1684.6" x2="1158.6" y2="1684.6" stroke="#000" stroke-width="1.6"/>
<text x="67.7" y="1707.7" font-size="16.64" font-weight="normal" text-anchor="start" fill="#000" textLength="134.8" lengthAdjust="spacingAndGlyphs">8 November 2021</text>
<text x="1161.0" y="1707.4" font-size="16.64" font-weight="normal" text-anchor="end" fill="#000" textLength="9.4" lengthAdjust="spacingAndGlyphs">6</text>
</svg></body></html>
